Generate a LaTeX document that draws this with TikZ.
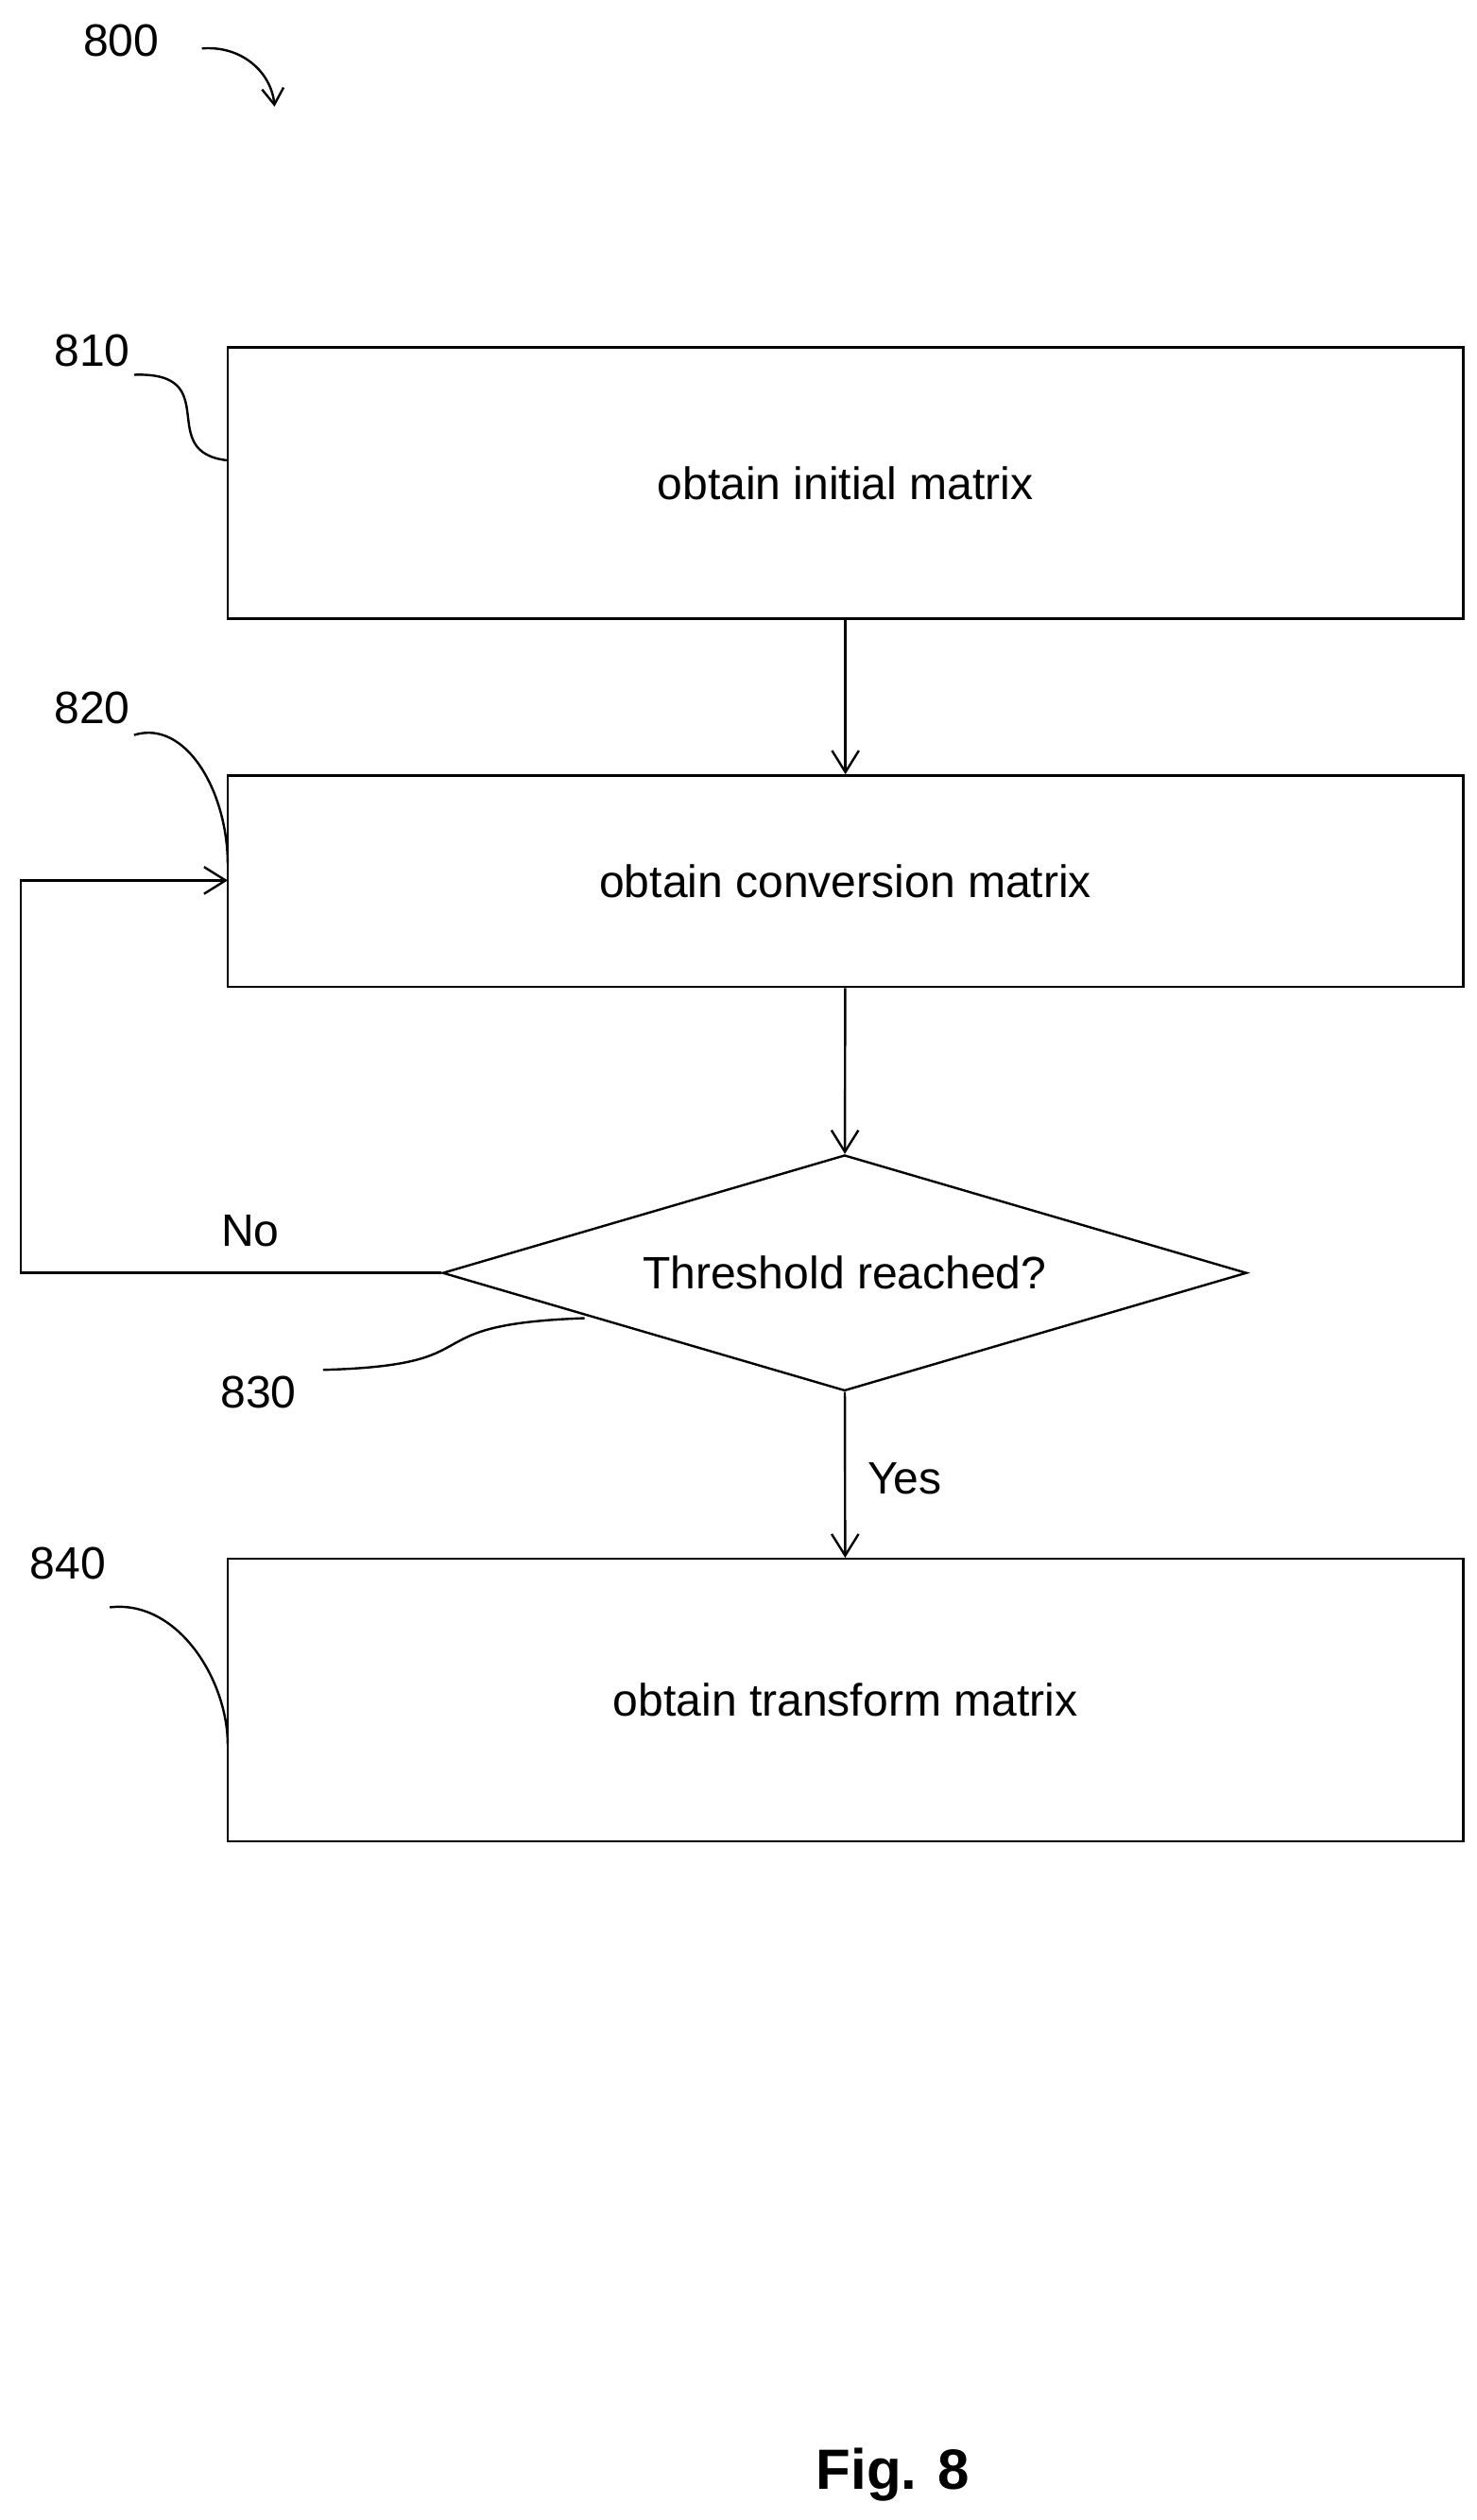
\documentclass[tikz,border=0pt]{standalone}
\usepackage{fontspec}
\setmainfont{Liberation Sans}
\usetikzlibrary{arrows.meta,shapes.geometric}
\tikzset{
  stepbox/.style={draw, line width=1.2pt, minimum width=765*0.03cm, font=\fontsize{24}{28}\selectfont},
  ref/.style={font=\fontsize{24}{28}\selectfont},
  flow/.style={line width=1.2pt, -{Straight Barb[length=4mm,width=5mm]}},
  lead/.style={line width=1.2pt},
}
\begin{document}
\begin{tikzpicture}[x=0.03cm, y=-0.03cm]
  \useasboundingbox (0,0) rectangle (914,1560);
  % Steps
  \node[stepbox, minimum height=168*0.03cm] (s810) at (523.5,299) {obtain initial matrix};
  \node[stepbox, minimum height=131*0.03cm] (s820) at (523.5,545.5) {obtain conversion matrix};
  \node[draw, diamond, line width=1.2pt, aspect=3.41, minimum width=498*0.03cm,
        minimum height=146*0.03cm, inner sep=0pt, ref] (s830) at (523,788) {Threshold reached?};
  \node[stepbox, minimum height=175*0.03cm] (s840) at (523.5,1052.5) {obtain transform matrix};
  \coordinate (c820) at (141,545);
  % Connectors
  \draw[flow] (s810) -- (s820);
  \draw[flow] (s820) -- (s830);
  \draw[flow] (s830) -- node[right, ref, xshift=8pt, yshift=-2pt] {Yes} (s840);
  \draw[flow] (s830.west) -- (13,788) -- (13,545) -- (c820);
  \node[ref] (no) at (155,762) {No};
  % Reference labels
  \node[ref] (r800) at (75,25) {800};
  \node[ref] (r810) at (57,217) {810};
  \node[ref] (r820) at (57,438) {820};
  \node[ref] (r830) at (160,862) {830};
  \node[ref] (r840) at (42,968) {840};
  \draw[lead, -{Straight Barb[length=3mm,width=4mm]}] (125,30) .. controls (150,28) and (168,45) .. (170,66);
  \draw[lead] (83,232) .. controls (140,230) and (95,280) .. (141,285);
  \draw[lead] (83,455) .. controls (115,445) and (141,490) .. (141,535);
  \draw[lead] (200,848) .. controls (310,845) and (250,820) .. (362,816);
  \draw[lead] (68,995) .. controls (110,990) and (141,1040) .. (141,1080);
  \node[font=\bfseries\fontsize{30}{34}\selectfont] (fig) at (553,1532) {Fig. 8};
\end{tikzpicture}
\end{document}
